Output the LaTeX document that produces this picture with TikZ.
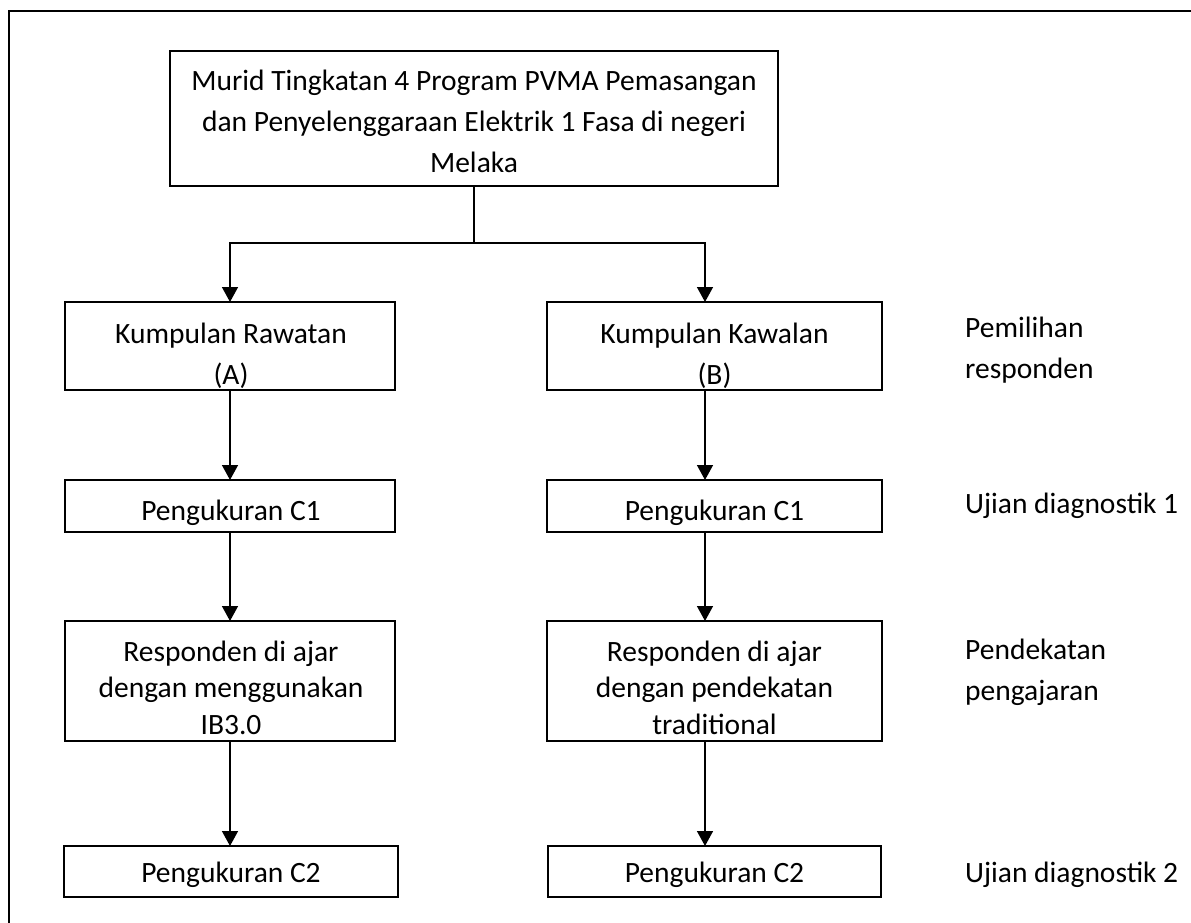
\documentclass[tikz,border=0pt]{standalone}
\usepackage{fontspec}
\setmainfont{Carlito}
\usetikzlibrary{arrows.meta}
\begin{document}
\begin{tikzpicture}[x=1pt,y=-1pt,
  box/.style={draw, line width=1.8pt, inner sep=0pt, outer sep=0pt},
  txt/.style={inner sep=0pt, align=center, anchor=base, font=\fontsize{29.5}{41}\selectfont},
  txtr/.style={inner sep=0pt, align=center, anchor=base, font=\fontsize{29.5}{36.5}\selectfont},
  lbl/.style={inner sep=0pt, align=left, anchor=base west, font=\fontsize{29.5}{41}\selectfont},
  conn/.style={line width=1.5pt},
  arr/.style={conn, -{Triangle[width=16pt,length=15pt]}}]
\useasboundingbox (0,0) rectangle (1191,923);
\draw[line width=2pt] (9,923) -- (9,11) -- (1191,11);

% boxes
\node[box, minimum width=608pt, minimum height=135pt] (top) at (474,118.5) {};
\node[box, minimum width=330pt, minimum height=88pt] (A) at (230,346) {};
\node[box, minimum width=335pt, minimum height=88pt] (B) at (714.5,346) {};
\node[box, minimum width=330pt, minimum height=52pt] (C1A) at (230,506) {};
\node[box, minimum width=335pt, minimum height=52pt] (C1B) at (714.5,506) {};
\node[box, minimum width=330pt, minimum height=120pt] (RA) at (230,681) {};
\node[box, minimum width=335pt, minimum height=120pt] (RB) at (714.5,681) {};
\node[box, minimum width=334pt, minimum height=51pt] (C2A) at (231,871.5) {};
\node[box, minimum width=333pt, minimum height=51pt] (C2B) at (714.5,871.5) {};

% texts, clipped to their boxes (base anchor = last line)
\begin{scope}\clip (top.south west) rectangle (top.north east);
\node[txt] (topt) at (474,172) {Murid Tingkatan 4 Program PVMA Pemasangan\\dan Penyelenggaraan Elektrik 1 Fasa di negeri\\Melaka};
\end{scope}
\begin{scope}\clip (A.south west) rectangle (A.north east);
\node[txt] (At) at (231,384) {Kumpulan Rawatan\\(A)};
\end{scope}
\begin{scope}\clip (B.south west) rectangle (B.north east);
\node[txt] (Bt) at (714.5,384) {Kumpulan Kawalan\\(B)};
\end{scope}
\begin{scope}\clip (C1A.south west) rectangle (C1A.north east);
\node[txt] (C1At) at (231,520) {Pengukuran C1};
\end{scope}
\begin{scope}\clip (C1B.south west) rectangle (C1B.north east);
\node[txt] (C1Bt) at (714.5,520) {Pengukuran C1};
\end{scope}
\begin{scope}\clip (RA.south west) rectangle (RA.north east);
\node[txtr] (RAt) at (231,734) {Responden di ajar\\dengan menggunakan\\IB3.0};
\end{scope}
\begin{scope}\clip (RB.south west) rectangle (RB.north east);
\node[txtr] (RBt) at (714.5,734) {Responden di ajar\\dengan pendekatan\\traditional};
\end{scope}
\begin{scope}\clip (C2A.south west) rectangle (C2A.north east);
\node[txt] (C2At) at (231,882) {Pengukuran C2};
\end{scope}
\begin{scope}\clip (C2B.south west) rectangle (C2B.north east);
\node[txt] (C2Bt) at (714.5,882) {Pengukuran C2};
\end{scope}

% side labels
\node[lbl] (L1) at (965,378) {Pemilihan\\responden};
\node[lbl] (L2) at (965,513) {Ujian diagnostik 1};
\node[lbl] (L3) at (965,700) {Pendekatan\\pengajaran};
\node[lbl] (L4) at (965,882) {Ujian diagnostik 2};

% connectors
\coordinate (split) at (474,243);
\coordinate (colA) at (230,0);
\coordinate (colB) at (705,0);
\draw[conn] (top.south) -- (split);
\draw[arr] (split) -| (A.north -| colA);
\draw[arr] (split) -| (B.north -| colB);
\draw[arr] (A.south -| colA) -- (C1A.north -| colA);
\draw[arr] (C1A.south -| colA) -- (RA.north -| colA);
\draw[arr] (RA.south -| colA) -- (C2A.north -| colA);
\draw[arr] (B.south -| colB) -- (C1B.north -| colB);
\draw[arr] (C1B.south -| colB) -- (RB.north -| colB);
\draw[arr] (RB.south -| colB) -- (C2B.north -| colB);
\end{tikzpicture}
\end{document}
